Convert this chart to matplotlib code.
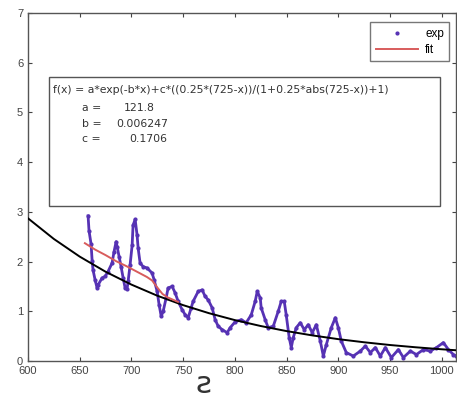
import numpy as np
import matplotlib
matplotlib.use('Agg')
import matplotlib.pyplot as plt

# Measured points (exp)
exp_x = [658.1, 659.0, 661.0, 662.0, 662.9, 664.9, 666.8, 667.8, 671.6, 674.5,
         677.4, 681.3, 683.2, 685.2, 686.2, 688.1, 690.0, 692.0, 693.9, 695.8,
         696.8, 698.7, 700.7, 701.6, 703.6, 705.5, 706.5, 708.4, 711.3, 715.2,
         720.0, 722.0, 724.9, 726.8, 728.8, 730.7, 733.6, 735.5, 739.4, 742.3,
         745.2, 749.1, 752.0, 754.9, 757.8, 759.7, 764.6, 768.4, 771.3, 774.2,
         778.1, 781.0, 783.9, 787.8, 792.6, 795.5, 800.4, 806.2, 811.0, 815.9,
         819.7, 821.7, 824.6, 825.5, 829.4, 832.3, 837.2, 842.0, 844.9, 847.8,
         849.7, 852.6, 854.6, 856.5, 859.4, 863.3, 867.2, 871.0, 874.9, 878.8,
         882.7, 885.6, 888.5, 893.3, 897.2, 900.1, 903.0, 907.8, 914.6, 921.4,
         926.2, 931.1, 935.9, 940.7, 945.6, 951.4, 958.2, 963.0, 969.8, 975.6,
         982.4, 989.1, 995.0, 1001.7, 1006.6, 1011.4, 1014.3]
exp_y = [2.92, 2.62, 2.35, 2.02, 1.83, 1.63, 1.47, 1.53, 1.67, 1.70,
         1.80, 1.97, 2.20, 2.40, 2.30, 2.10, 1.90, 1.67, 1.47, 1.45,
         1.60, 1.93, 2.33, 2.73, 2.85, 2.53, 2.27, 1.97, 1.90, 1.87,
         1.77, 1.63, 1.40, 1.13, 0.90, 1.00, 1.27, 1.47, 1.50, 1.37,
         1.20, 1.03, 0.93, 0.87, 1.07, 1.20, 1.40, 1.43, 1.30, 1.23,
         1.07, 0.83, 0.70, 0.63, 0.57, 0.67, 0.79, 0.83, 0.77, 0.93,
         1.20, 1.40, 1.27, 1.07, 0.83, 0.67, 0.70, 1.00, 1.20, 1.20,
         0.93, 0.47, 0.27, 0.47, 0.67, 0.77, 0.63, 0.73, 0.57, 0.73,
         0.40, 0.10, 0.33, 0.67, 0.87, 0.67, 0.40, 0.17, 0.10, 0.20,
         0.30, 0.17, 0.27, 0.10, 0.27, 0.07, 0.23, 0.07, 0.20, 0.13,
         0.23, 0.20, 0.27, 0.37, 0.23, 0.13, 0.10]

# fit curve (red)
fit_x = [655, 665, 675, 685, 695, 705, 715, 720, 725, 730, 735, 745]
fit_y = [2.37, 2.24, 2.13, 2.01, 1.91, 1.80, 1.69, 1.62, 1.48, 1.35, 1.28, 1.19]

# exponential part (black)
base_x = [600, 625, 650, 675, 700, 725, 750, 775, 800, 825, 850, 875, 900,
          925, 950, 975, 1000, 1015]
base_y = [2.870, 2.455, 2.100, 1.796, 1.537, 1.314, 1.124, 0.962, 0.823,
          0.704, 0.602, 0.515, 0.440, 0.377, 0.322, 0.276, 0.236, 0.215]

x_ticks = [600, 650, 700, 750, 800, 850, 900, 950, 1000]
y_ticks = [0, 1, 2, 3, 4, 5, 6, 7]

eq_text = "f(x) = a*exp(-b*x)+c*((0.25*(725-x))/(1+0.25*abs(725-x))+1)"
coef_names = ["a =", "b =", "c ="]
coef_vals = ["121.8", "0.006247", "0.1706"]

plt.rcParams['font.family'] = ['Liberation Sans', 'DejaVu Sans']

fig = plt.figure(figsize=(4.57, 4.03), dpi=100)
ax = fig.add_axes([0.0613, 0.1042, 0.9367, 0.8635])

purple = '#5632b4'
red = '#d85c5c'
ax.plot(exp_x, exp_y, color=purple, lw=2.0, marker='.', markersize=4,
        zorder=2)
ax.plot(base_x, base_y, color='black', lw=1.4, zorder=3)
ax.plot(fit_x, fit_y, color=red, lw=1.4, zorder=4)

ax.set_xlim(600, 1014)
ax.set_ylim(0, 7)
ax.set_xticks(x_ticks)
ax.set_yticks(y_ticks)
ax.tick_params(direction='in', top=True, right=True, labelsize=8,
               colors='#444444', length=3, width=0.8)
for s in ax.spines.values():
    s.set_color('#555555')
    s.set_linewidth(1.0)

# equation box
ax.add_patch(plt.Rectangle((620.3, 3.12), 378.5, 2.6, facecolor='white',
                           edgecolor='#555555', lw=1.0, zorder=5))
ax.text(624, 5.45, eq_text, fontsize=7.8, color='#333333', zorder=6,
        va='center', family='DejaVu Sans')
val_x = [708, 710, 716]
for i, (n, v) in enumerate(zip(coef_names, coef_vals)):
    yy = 5.08 - i * 0.31
    ax.text(652, yy, n, fontsize=7.8, color='#333333', zorder=6,
            va='center', family='DejaVu Sans')
    ax.text(val_x[i], yy, v, fontsize=7.8, color='#333333',
            zorder=6, va='center', ha='center', family='DejaVu Sans')

# legend: marker only for exp
h_exp, = ax.plot([], [], color=purple, ls='none', marker='.', markersize=4)
h_fit, = ax.plot([], [], color=red, lw=1.4)
leg = ax.legend([h_exp, h_fit], ['exp', 'fit'], loc='upper right',
                bbox_to_anchor=(0.998, 0.99), fontsize=8.5, frameon=True,
                fancybox=False, edgecolor='#555555', handlelength=3.6,
                borderpad=0.45, labelspacing=0.35, handletextpad=0.6)
leg.get_frame().set_linewidth(1.0)

fig.text(0.445, 0.045, '\u01a8', fontsize=22, ha='center', va='center',
         color='#333333', family='DejaVu Sans')

fig.savefig('out.png', dpi=100)
